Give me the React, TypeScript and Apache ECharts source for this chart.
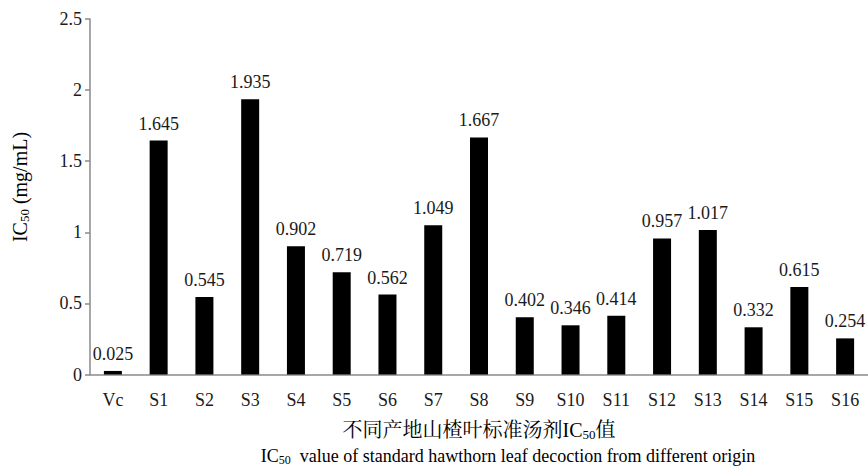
import React, { useEffect, useRef } from "react";
import * as echarts from "echarts";

const categories = ["Vc", "S1", "S2", "S3", "S4", "S5", "S6", "S7", "S8", "S9", "S10", "S11", "S12", "S13", "S14", "S15", "S16"];
const ic50Values = [0.025, 1.645, 0.545, 1.935, 0.902, 0.719, 0.562, 1.049, 1.667, 0.402, 0.346, 0.414, 0.957, 1.017, 0.332, 0.615, 0.254];
const yTicks = { min: 0, max: 2.5, interval: 0.5 };

const SERIF = "'Liberation Serif', 'Times New Roman', 'Noto Serif CJK SC', 'Noto Sans CJK SC', serif";
const TEXT = "#1a1a1a";
const AXIS = "#8a8a8a";
const FS = 18;

const makeRich = (size: number, sub: number, drop: number) => ({
  n: { fontFamily: SERIF, fontSize: size, color: TEXT },
  s: { fontFamily: SERIF, fontSize: sub, color: TEXT, padding: [drop, 0, 0, 0] },
});

export default function App() {
  const ref = useRef<HTMLDivElement>(null);

  useEffect(() => {
    document.body.style.margin = "0";
    const chart = echarts.init(ref.current!, null, { renderer: "svg" });
    chart.setOption({
      animation: false,
      backgroundColor: "#ffffff",
      textStyle: { fontFamily: SERIF },
      grid: { left: 90, top: 19, width: 782, bottom: 93.5, containLabel: false },
      xAxis: {
        type: "category",
        data: categories,
        axisLine: { lineStyle: { color: AXIS, width: 1.5 } },
        axisTick: { show: false },
        axisLabel: { fontFamily: SERIF, fontSize: FS, color: TEXT, margin: 16 },
      },
      yAxis: {
        type: "value",
        min: yTicks.min,
        max: yTicks.max,
        interval: yTicks.interval,
        splitLine: { show: false },
        axisLine: { show: true, lineStyle: { color: AXIS, width: 1.5 } },
        axisTick: { show: true, length: 5, lineStyle: { color: AXIS, width: 1.5 } },
        axisLabel: { fontFamily: SERIF, fontSize: FS, color: TEXT, margin: 8 },
      },
      series: [
        {
          type: "bar",
          data: ic50Values,
          barWidth: 18,
          itemStyle: { color: "#000000" },
          label: {
            show: true,
            position: "top",
            distance: 8,
            fontFamily: SERIF,
            fontSize: FS,
            color: TEXT,
            formatter: (p: any) => Number(p.value).toFixed(3),
          },
        },
      ],
      graphic: [
        {
          type: "text",
          x: 20,
          y: 187,
          rotation: Math.PI / 2,
          style: {
            text: "{n|IC}{s|50}{n| (mg/mL)}",
            rich: makeRich(20, 13, 9),
            align: "center",
            verticalAlign: "middle",
          },
        },
        {
          type: "text",
          x: 479,
          y: 430,
          style: {
            text: "{n|不同产地山楂叶标准汤剂IC}{s|50}{n|值}",
            rich: makeRich(20, 13, 9),
            align: "center",
            verticalAlign: "middle",
          },
        },
        {
          type: "text",
          x: 508,
          y: 456,
          style: {
            text: "{n|IC}{s|50}{n|  value of standard hawthorn leaf decoction from different origin}",
            rich: makeRich(FS, 12, 8),
            align: "center",
            verticalAlign: "middle",
          },
        },
      ],
    });
    return () => chart.dispose();
  }, []);

  return <div ref={ref} style={{ width: 868, height: 468 }} />;
}
